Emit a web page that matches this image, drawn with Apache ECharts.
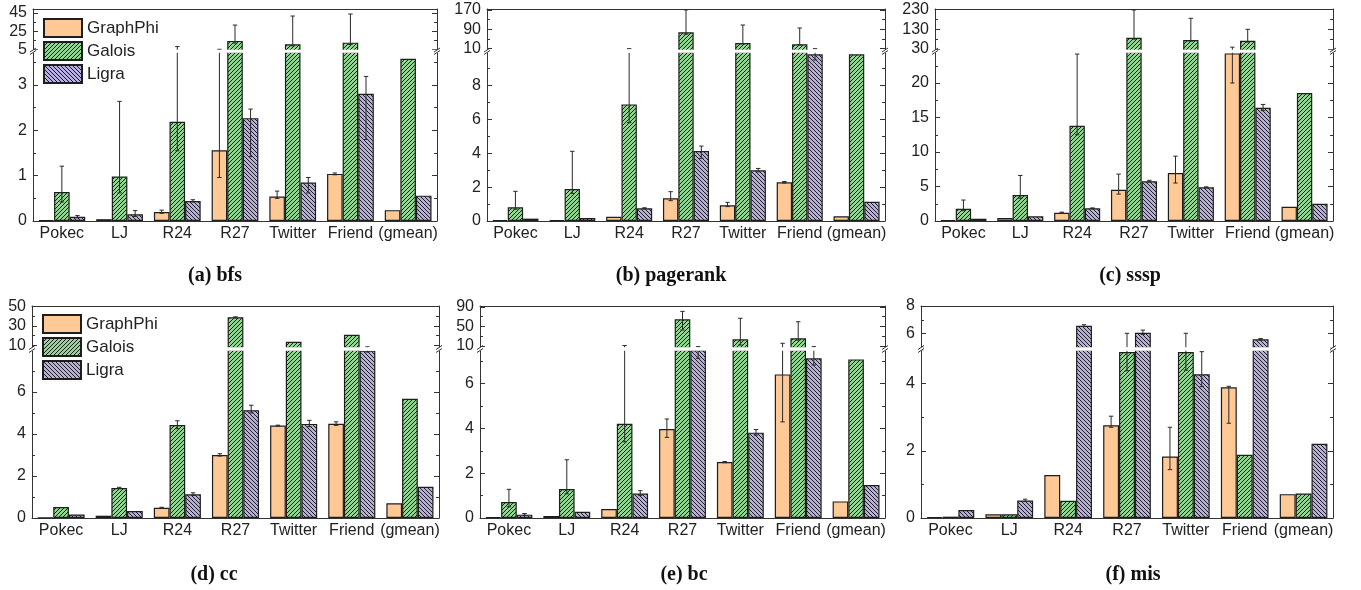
<!DOCTYPE html>
<html><head><meta charset="utf-8">
<script src="https://cdn.jsdelivr.net/npm/echarts@6/dist/echarts.min.js"></script>
<style>html,body{margin:0;padding:0;background:#fff}#c{width:1361px;height:590px}</style>
</head><body><div id="c"></div>
<script>
const categories = ['Pokec', 'LJ', 'R24', 'R27', 'Twitter', 'Friend', '(gmean)'];
const seriesNames = ['GraphPhi', 'Galois', 'Ligra'];

// (a) bfs
const bfsGraphPhi = [0.02, 0.04, 0.2, 1.56, 0.54, 1.04, 0.24];
const bfsGalois   = [0.64, 0.98, 2.19, 14.4, 10.7, 12.5, 3.58];
const bfsLigra    = [0.095, 0.15, 0.44, 2.27, 0.85, 2.81, 0.56];
const bfsGraphPhiErr = [null, null, [0.17, 0.24], [0.96, 3.79], [0.5, 0.66], [1.02, 1.06], null];
const bfsGaloisErr   = [[0.42, 1.21], [0.62, 2.64], [1.55, 3.85], [12, 31.8], [9, 41.7], [10.5, 43.9], null];
const bfsLigraErr    = [[0.07, 0.12], [0.1, 0.23], [0.42, 0.47], [1.42, 2.47], [0.62, 0.96], [1.8, 3.19], null];
const bfsTicksLow = [0, 1, 2, 3];
const bfsTicksHigh = [5, 25, 45];
const bfsBreak = 5;

// (b) pagerank
const prGraphPhi = [0.06, 0.05, 0.25, 1.34, 0.93, 2.28, 0.28];
const prGalois   = [0.81, 1.89, 6.88, 77.6, 33.5, 28.1, 9.83];
const prLigra    = [0.14, 0.18, 0.75, 4.13, 2.99, 9.83, 1.14];
const prGraphPhiErr = [null, null, null, [1.2, 1.73], [0.85, 1.1], [2.24, 2.33], null];
const prGaloisErr   = [[0.7, 1.75], [1.63, 4.11], [5.8, 10.17], [70, 170], [30, 107.7], [26, 95.4], null];
const prLigraErr    = [null, null, [0.72, 0.78], [3.7, 4.42], [2.9, 3.1], [9.5, 10.1], null];
const prTicksLow = [0, 2, 4, 6, 8];
const prTicksHigh = [10, 90, 170];
const prBreak = 10;

// (c) sssp
const ssspGraphPhi = [0.15, 0.43, 1.2, 4.54, 6.96, 24.3, 2.07];
const ssspGalois   = [1.78, 3.77, 13.8, 87.4, 75.7, 72, 18.55];
const ssspLigra    = [0.33, 0.68, 1.84, 5.75, 4.88, 16.4, 2.5];
const ssspGraphPhiErr = [null, null, [1.15, 1.28], [3.9, 6.8], [5.5, 9.4], [20, 25.2], null];
const ssspGaloisErr   = [[1.5, 3.04], [3.3, 6.6], [12.5, 24.2], [80, 228], [70, 185.8], [65, 130], null];
const ssspLigraErr    = [null, null, [1.8, 1.9], [5.65, 5.9], [4.8, 4.95], [16, 16.9], null];
const ssspTicksLow = [0, 5, 10, 15, 20];
const ssspTicksHigh = [30, 130, 230];
const ssspBreak = 30;

// (d) cc
const ccGraphPhi = [0.02, 0.11, 0.49, 3.0, 4.4, 4.49, 0.7];
const ccGalois   = [0.52, 1.43, 4.43, 39, 13.7, 21, 5.68];
const ccLigra    = [0.17, 0.33, 1.13, 5.13, 4.48, 7.97, 1.49];
const ccGraphPhiErr = [null, null, [0.47, 0.51], [2.95, 3.06], [4.38, 4.42], [4.41, 4.58], null];
const ccGaloisErr   = [null, [1.41, 1.46], [4.25, 4.63], [38.5, 39.5], null, null, null];
const ccLigraErr    = [null, null, [1.07, 1.2], [5.0, 5.37], [4.35, 4.65], [7.9, 8.15], null];
const ccTicksLow = [0, 2, 4, 6];
const ccTicksHigh = [10, 30, 50];
const ccBreak = 10;

// (e) bc
const bcGraphPhi = [0.04, 0.09, 0.4, 3.97, 2.5, 6.41, 0.74];
const bcGalois   = [0.71, 1.29, 4.21, 64.8, 23.7, 25.8, 7.08];
const bcLigra    = [0.15, 0.28, 1.09, 7.5, 3.81, 7.13, 1.47];
const bcGraphPhiErr = [null, null, null, [3.6, 4.42], [2.47, 2.52], [4.29, 7.8], null];
const bcGaloisErr   = [[0.5, 1.28], [1.08, 2.6], [3.4, 7.7], [42.8, 81], [12, 66.8], [22, 59.8], null];
const bcLigraErr    = [[0.12, 0.2], null, [1.0, 1.22], [7.13, 7.65], [3.7, 3.95], [6.83, 7.65], null];
const bcTicksLow = [0, 2, 4, 6];
const bcTicksHigh = [10, 50, 90];
const bcBreak = 10;

// (f) mis
const misGraphPhi = [0.03, 0.11, 1.28, 2.76, 1.83, 3.89, 0.71];
const misGalois   = [0.04, 0.11, 0.51, 4.94, 4.94, 1.88, 0.73];
const misLigra    = [0.24, 0.52, 6.58, 6.07, 4.28, 5.6, 2.21];
const misGraphPhiErr = [null, null, null, [2.7, 3.03], [1.44, 2.7], [2.82, 3.92], null];
const misGaloisErr   = [null, null, null, [4.38, 6.03], [4.4, 6.03], null, null];
const misLigraErr    = [null, [0.49, 0.56], [6.52, 6.65], [5.95, 6.26], [3.91, 4.95], [5.55, 5.65], null];
const misTicksLow = [0, 2, 4];
const misTicksHigh = [6, 8];
const misBreak = 5;

// ---------- layout / styling ----------
const FONT = '"Liberation Sans", Arial, sans-serif';
const AX = '#333';
const TXT = '#222';
const BAR_W = 27; // percent of band

const panels = [
  {title: '(a) bfs', data: [bfsGraphPhi, bfsGalois, bfsLigra], err: [bfsGraphPhiErr, bfsGaloisErr, bfsLigraErr],
   low: bfsTicksLow, high: bfsTicksHigh, brk: bfsBreak,
   left: 33, right: 437, top: 9, brkTop: 50.5, brkBot: 52, bottom: 221, lowMax: 3.73, highMin: 3.9, highMax: 49.4, tx: 215, ty: 276},
  {title: '(b) pagerank', data: [prGraphPhi, prGalois, prLigra], err: [prGraphPhiErr, prGaloisErr, prLigraErr],
   low: prTicksLow, high: prTicksHigh, brk: prBreak,
   left: 487, right: 885, top: 9, brkTop: 50.5, brkBot: 52, bottom: 221, lowMax: 9.97, highMin: 2.6, highMax: 173.7, tx: 671, ty: 276},
  {title: '(c) sssp', data: [ssspGraphPhi, ssspGalois, ssspLigra], err: [ssspGraphPhiErr, ssspGaloisErr, ssspLigraErr],
   low: ssspTicksLow, high: ssspTicksHigh, brk: ssspBreak,
   left: 935, right: 1333, top: 9, brkTop: 50.5, brkBot: 52, bottom: 221, lowMax: 24.5, highMin: 22.4, highMax: 233, tx: 1130, ty: 276},
  {title: '(d) cc', data: [ccGraphPhi, ccGalois, ccLigra], err: [ccGraphPhiErr, ccGaloisErr, ccLigraErr],
   low: ccTicksLow, high: ccTicksHigh, brk: ccBreak,
   left: 32, right: 439, top: 306, brkTop: 348, brkBot: 350, bottom: 518, lowMax: 8.0, highMin: 7.2, highMax: 50.7, tx: 214, ty: 575},
  {title: '(e) bc', data: [bcGraphPhi, bcGalois, bcLigra], err: [bcGraphPhiErr, bcGaloisErr, bcLigraErr],
   low: bcTicksLow, high: bcTicksHigh, brk: bcBreak,
   left: 480, right: 885, top: 306, brkTop: 348, brkBot: 350, bottom: 518, lowMax: 7.5, highMin: 5.9, highMax: 92, tx: 684, ty: 575},
  {title: '(f) mis', data: [misGraphPhi, misGalois, misLigra], err: [misGraphPhiErr, misGaloisErr, misLigraErr],
   low: misTicksLow, high: misTicksHigh, brk: misBreak,
   left: 921, right: 1333, top: 306, brkTop: 348, brkBot: 350, bottom: 518, lowMax: 5.0, highMin: 4.97, highMax: 8.0, tx: 1133, ty: 575}
];

function hatch(bg, dir) {
  const s = 4;
  const c = document.createElement('canvas');
  c.width = s; c.height = s;
  const g = c.getContext('2d');
  g.fillStyle = bg; g.fillRect(0, 0, s, s);
  g.strokeStyle = '#1c1c1c'; g.lineWidth = 1;
  g.beginPath();
  if (dir > 0) {
    g.moveTo(-1, s + 1); g.lineTo(s + 1, -1);
    g.moveTo(-1, 1); g.lineTo(1, -1);
    g.moveTo(s - 1, s + 1); g.lineTo(s + 1, s - 1);
  } else {
    g.moveTo(-1, -1); g.lineTo(s + 1, s + 1);
    g.moveTo(s - 1, -1); g.lineTo(s + 1, 1);
    g.moveTo(-1, s - 1); g.lineTo(1, s + 1);
  }
  g.stroke();
  return c;
}
const fills = ['#ffc996',
  {image: hatch('#93d693', 1), repeat: 'repeat'},
  {image: hatch('#b9aee0', -1), repeat: 'repeat'}];

function minorTicks(ticks, min, max) {
  const out = [];
  const step = ticks.length > 1 ? ticks[1] - ticks[0] : 1;
  const cand = [ticks[0] - step / 2];
  ticks.forEach(t => cand.push(t + step / 2));
  cand.forEach(v => { if (v >= min && v <= max) out.push(v); });
  return out;
}

function makeRender() {
  return function (params, api) {
    const c = api.value(0), s = api.value(1), lo = api.value(2), hi = api.value(3);
    const capLo = api.value(4), capHi = api.value(5);
    const band = api.size([1, 0])[0];
    const bw = band * BAR_W / 100;
    const cx = api.coord([c, lo])[0] + (s - 1) * bw;
    const y1 = api.coord([c, lo])[1], y2 = api.coord([c, hi])[1];
    const st = {stroke: '#2a2a2a', lineWidth: 1};
    const ch = [{type: 'line', shape: {x1: cx, y1: y1, x2: cx, y2: y2}, style: st}];
    const cw = 2.2;
    if (capLo) ch.push({type: 'line', shape: {x1: cx - cw, y1: y1, x2: cx + cw, y2: y1}, style: st});
    if (capHi) ch.push({type: 'line', shape: {x1: cx - cw, y1: y2, x2: cx + cw, y2: y2}, style: st});
    return {type: 'group', children: ch};
  };
}

const grids = [], xAxes = [], yAxes = [], series = [], graphics = [];

panels.forEach(p => {
  const segs = [
    {kind: 'top', top: p.top, bottom: p.brkTop, min: p.highMin, max: p.highMax, ticks: p.high},
    {kind: 'low', top: p.brkBot, bottom: p.bottom, min: 0, max: p.lowMax, ticks: p.low}
  ];
  segs.forEach(sg => {
    const gi = grids.length;
    grids.push({left: p.left, top: sg.top, width: p.right - p.left, height: sg.bottom - sg.top,
      containLabel: false, outerBoundsMode: 'none'});
    xAxes.push({type: 'category', gridIndex: gi, data: categories,
      position: sg.kind === 'top' ? 'top' : 'bottom', boundaryGap: true,
      axisLine: {show: true, onZero: false, lineStyle: {color: AX, width: 1}},
      axisTick: {show: false}, splitLine: {show: false},
      axisLabel: sg.kind === 'low'
        ? {show: true, interval: 0, fontSize: 16, color: TXT, fontFamily: FONT, margin: 5}
        : {show: false}});
    const yi = yAxes.length;
    const minors = minorTicks(sg.ticks, sg.min, sg.max);
    ['left', 'right'].forEach(pos => {
      yAxes.push({type: 'value', gridIndex: gi, position: pos, min: sg.min, max: sg.max, offset: 0,
        axisLine: {show: true, onZero: false, lineStyle: {color: AX, width: 1}},
        axisTick: {show: true, inside: true, length: 5, customValues: sg.ticks, lineStyle: {color: AX}},
        axisLabel: pos === 'left'
          ? {show: true, customValues: sg.ticks, fontSize: 16, color: TXT, fontFamily: FONT, margin: 6}
          : {show: false},
        splitLine: {show: false}, minorTick: {show: false}});
      yAxes.push({type: 'value', gridIndex: gi, position: pos, min: sg.min, max: sg.max, offset: 0,
        axisLine: {show: false},
        axisTick: {show: true, inside: true, length: 3, customValues: minors, lineStyle: {color: AX}},
        axisLabel: {show: false}, splitLine: {show: false}});
    });
    seriesNames.forEach((nm, si) => {
      const vals = sg.kind === 'top' ? p.data[si].map(v => (v >= p.brk ? v : null)) : p.data[si];
      series.push({type: 'bar', name: nm, xAxisIndex: gi, yAxisIndex: yi, data: vals,
        barWidth: BAR_W + '%', barGap: '0%',
        itemStyle: {color: fills[si], borderColor: '#1e1e1e', borderWidth: 1.2},
        emphasis: {disabled: true}, animation: false, silent: true});
    });
    const errData = [];
    seriesNames.forEach((nm, si) => {
      p.err[si].forEach((e, ci) => {
        if (!e) return;
        const lo = e[0], hi = e[1];
        if (sg.kind === 'low') {
          if (lo >= p.lowMax) return;
          if (hi < p.brk) errData.push([ci, si, lo, hi, 1, 1]);
          else errData.push([ci, si, lo, p.lowMax, 1, 0]);
        } else {
          if (hi < p.brk) return;
          errData.push([ci, si, Math.max(lo, p.brk), hi, lo >= p.brk ? 1 : 0, 1]);
        }
      });
    });
    series.push({type: 'custom', xAxisIndex: gi, yAxisIndex: yi, data: errData,
      encode: {x: 0, y: 2}, renderItem: makeRender(), z: 5, silent: true, animation: false, clip: false});
  });
  // white gap across the break
  graphics.push({type: 'rect', z: 100,
    shape: {x: p.left - 1, y: p.brkTop - 0.7, width: p.right - p.left + 2, height: p.brkBot - p.brkTop + 1.4},
    style: {fill: '#fff'}});
  [p.left, p.right].forEach(x => {
    graphics.push({type: 'line', z: 101, shape: {x1: x - 3, y1: p.brkTop + 1.5, x2: x + 3, y2: p.brkTop - 2.5},
      style: {stroke: AX, lineWidth: 1}});
    graphics.push({type: 'line', z: 101, shape: {x1: x - 3, y1: p.brkBot + 2.5, x2: x + 3, y2: p.brkBot - 1.5},
      style: {stroke: AX, lineWidth: 1}});
  });
  graphics.push({type: 'text', z: 101, x: p.tx, y: p.ty,
    style: {text: p.title, textAlign: 'center', textVerticalAlign: 'middle',
      font: 'bold 20px "Liberation Serif", "Times New Roman", serif', fill: '#111'}});
});

const legendBase = {orient: 'vertical', left: 43, padding: 0, itemWidth: 38, itemHeight: 18, itemGap: 3,
  icon: 'rect', data: seriesNames, selectedMode: false, z: 300, zlevel: 0,
  textStyle: {fontSize: 17, color: TXT, fontFamily: FONT}};

const chart = echarts.init(document.getElementById('c'), null, {renderer: 'canvas'});
chart.setOption({
  animation: false,
  backgroundColor: '#fff',
  legend: [Object.assign({}, legendBase, {top: 18}), Object.assign({}, legendBase, {top: 314, left: 42})],
  grid: grids, xAxis: xAxes, yAxis: yAxes, series: series,
  graphic: {elements: graphics}
});
</script></body></html>
